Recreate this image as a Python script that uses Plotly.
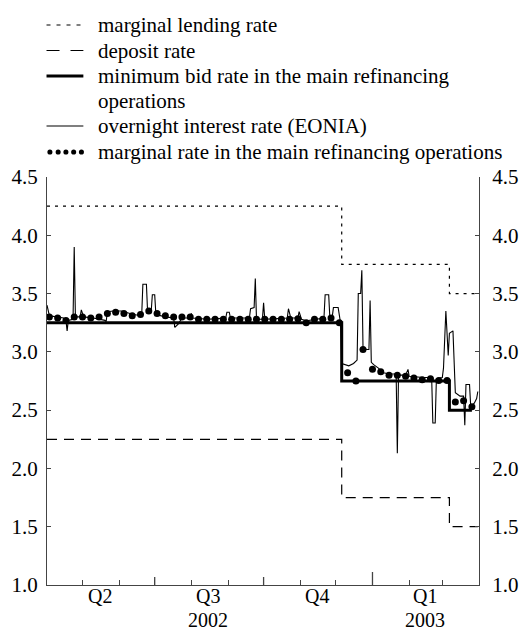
import plotly.graph_objects as go

# ---------------- data ----------------
eonia_dates = [
    "2002-04-01", "2002-04-03", "2002-04-09", "2002-04-15", "2002-04-17", "2002-04-18",
    "2002-04-19", "2002-04-23", "2002-04-24", "2002-04-25", "2002-04-29", "2002-04-30",
    "2002-05-02", "2002-05-10", "2002-05-20", "2002-05-21", "2002-05-22", "2002-05-27",
    "2002-06-03", "2002-06-07", "2002-06-13", "2002-06-20", "2002-06-21", "2002-06-24",
    "2002-06-25", "2002-06-28", "2002-06-29", "2002-07-01", "2002-07-02", "2002-07-10",
    "2002-07-17", "2002-07-18", "2002-07-21", "2002-07-24", "2002-07-31", "2002-08-01",
    "2002-08-02", "2002-08-15", "2002-08-30", "2002-08-31", "2002-09-02", "2002-09-03",
    "2002-09-19", "2002-09-20", "2002-09-23", "2002-09-24", "2002-09-25", "2002-09-30",
    "2002-10-01", "2002-10-02", "2002-10-21", "2002-10-22", "2002-10-24", "2002-10-30",
    "2002-10-31", "2002-11-02", "2002-11-05", "2002-11-06", "2002-11-08", "2002-11-21",
    "2002-11-22", "2002-11-25", "2002-11-26", "2002-11-28", "2002-11-29", "2002-12-03",
    "2002-12-05", "2002-12-06", "2002-12-12", "2002-12-16", "2002-12-19", "2002-12-20",
    "2002-12-22", "2002-12-23", "2002-12-24", "2002-12-27", "2002-12-29", "2002-12-30",
    "2002-12-31", "2003-01-02", "2003-01-06", "2003-01-10", "2003-01-16", "2003-01-21",
    "2003-01-22", "2003-01-23", "2003-01-29", "2003-01-31", "2003-02-01", "2003-02-13",
    "2003-02-20", "2003-02-21", "2003-02-23", "2003-02-24", "2003-03-01", "2003-03-02",
    "2003-03-04", "2003-03-06", "2003-03-07", "2003-03-10", "2003-03-12", "2003-03-16",
    "2003-03-19", "2003-03-20", "2003-03-21", "2003-03-24", "2003-03-25", "2003-03-28",
    "2003-03-30", "2003-03-31",
]
eonia_values = [
    3.40, 3.31, 3.30, 3.29, 3.27, 3.18,
    3.27, 3.28, 3.90, 3.30, 3.30, 3.36,
    3.30, 3.29, 3.27, 3.26, 3.345, 3.35,
    3.35, 3.34, 3.32, 3.31, 3.58, 3.58,
    3.34, 3.34, 3.49, 3.49, 3.32, 3.30,
    3.29, 3.21, 3.24, 3.29, 3.29, 3.33,
    3.29, 3.28, 3.29, 3.34, 3.34, 3.29,
    3.29, 3.37, 3.38, 3.63, 3.28, 3.28,
    3.42, 3.28, 3.29, 3.37, 3.29, 3.29,
    3.345, 3.28, 3.27, 3.23, 3.27, 3.29,
    3.49, 3.49, 3.29, 3.30, 3.38, 3.38,
    3.25, 2.90, 2.88, 2.90, 2.93, 3.50,
    3.50, 3.70, 3.04, 3.02, 3.02, 3.44,
    2.91, 2.89, 2.86, 2.82, 2.81, 2.81,
    2.13, 2.80, 2.80, 2.85, 2.79, 2.78,
    2.78, 2.39, 2.39, 2.77, 2.78, 2.86,
    3.35, 2.97, 3.16, 3.18, 2.65, 2.62,
    2.62, 2.37, 2.72, 2.72, 2.53, 2.56,
    2.60, 2.66,
]

mro_dates = [
    "2002-04-03", "2002-04-10", "2002-04-17", "2002-04-24", "2002-05-01", "2002-05-08",
    "2002-05-15", "2002-05-22", "2002-05-29", "2002-06-05", "2002-06-12", "2002-06-19",
    "2002-06-26", "2002-07-03", "2002-07-10", "2002-07-17", "2002-07-24", "2002-07-31",
    "2002-08-07", "2002-08-14", "2002-08-21", "2002-08-28", "2002-09-04", "2002-09-11",
    "2002-09-18", "2002-09-25", "2002-10-02", "2002-10-09", "2002-10-16", "2002-10-23",
    "2002-10-30", "2002-11-06", "2002-11-13", "2002-11-20", "2002-11-27", "2002-12-04",
    "2002-12-11", "2002-12-18", "2002-12-24", "2003-01-01", "2003-01-08", "2003-01-15",
    "2003-01-22", "2003-01-29", "2003-02-05", "2003-02-12", "2003-02-19", "2003-02-26",
    "2003-03-05", "2003-03-12", "2003-03-19", "2003-03-26",
]
mro_marginal = [
    3.30, 3.29, 3.27, 3.30, 3.30, 3.29,
    3.30, 3.33, 3.34, 3.33, 3.31, 3.32,
    3.35, 3.33, 3.31, 3.30, 3.30, 3.30,
    3.28, 3.28, 3.28, 3.28, 3.28, 3.28,
    3.28, 3.28, 3.28, 3.28, 3.28, 3.28,
    3.285, 3.25, 3.28, 3.28, 3.29, 3.25,
    2.82, 2.75, 3.02, 2.85, 2.83, 2.80,
    2.80, 2.79, 2.775, 2.76, 2.77, 2.755,
    2.755, 2.57, 2.58, 2.53,
]

min_bid_dates = ["2002-04-01", "2002-12-06", "2003-03-07", "2003-03-26"]
min_bid_values = [3.25, 2.75, 2.50, 2.50]

lending_dates = ["2002-04-01", "2002-12-06", "2003-03-07", "2003-03-31"]
lending_values = [4.25, 3.75, 3.50, 3.50]

deposit_dates = ["2002-04-01", "2002-12-06", "2003-03-07", "2003-03-31"]
deposit_values = [2.25, 1.75, 1.50, 1.50]

month_tick_dates = [
    "2002-05-01", "2002-06-01", "2002-07-01", "2002-08-01", "2002-09-01", "2002-10-01",
    "2002-11-01", "2002-12-01", "2003-01-01", "2003-02-01", "2003-03-01",
]
quarter_tick_dates = ["2002-07-01", "2002-10-01"]
year_tick_dates = ["2003-01-01"]
quarter_label_dates = ["2002-05-16", "2002-08-15", "2002-11-15", "2003-02-14"]
quarter_labels = ["Q2", "Q3", "Q4", "Q1"]
year_label_dates = ["2002-08-15", "2003-02-14"]
year_labels = ["2002", "2003"]

legend_labels = [
    "marginal lending rate",
    "deposit rate",
    "minimum bid rate in the main refinancing",
    "operations",
    "overnight interest rate (EONIA)",
    "marginal rate in the main refinancing operations",
]

# ---------------- figure ----------------
W, H = 530, 632
L, R, T, B = 44.5, 40, 177, 47
FONT = "Liberation Serif"
FS = 21
XFS = 20
AX = "#444444"

pw = W - L - R
ph = H - T - B


def px(x):
    return (x - L) / pw


def py(y):
    return (H - B - y) / ph


fig = go.Figure()
fig.add_trace(go.Scatter(x=lending_dates, y=lending_values, mode="lines",
                         line=dict(color="black", width=1.2, dash="3px,5px", shape="hv"),
                         showlegend=False, hoverinfo="skip"))
fig.add_trace(go.Scatter(x=deposit_dates, y=deposit_values, mode="lines",
                         line=dict(color="black", width=1.2, dash="10px,7px", shape="hv"),
                         showlegend=False, hoverinfo="skip"))
fig.add_trace(go.Scatter(x=eonia_dates, y=eonia_values, mode="lines",
                         line=dict(color="black", width=1.1),
                         showlegend=False, hoverinfo="skip"))
fig.add_trace(go.Scatter(x=min_bid_dates, y=min_bid_values, mode="lines",
                         line=dict(color="black", width=3, shape="hv"),
                         showlegend=False, hoverinfo="skip"))
fig.add_trace(go.Scatter(x=mro_dates, y=mro_marginal, mode="markers",
                         marker=dict(color="black", size=7),
                         showlegend=False, hoverinfo="skip"))
# carrier for the right-hand axis
fig.add_trace(go.Scatter(x=[None], y=[None], xaxis="x", yaxis="y2",
                         showlegend=False, hoverinfo="skip"))

xr = ["2002-04-01", "2003-04-01"]
ytick = dict(range=[1, 4.5], dtick=0.5, tick0=1, tickformat=".1f",
             showgrid=False, zeroline=False, showline=True, linecolor=AX, linewidth=1,
             ticks="inside", ticklen=4, tickcolor=AX,
             tickfont=dict(family=FONT, size=FS, color="black"))
fig.update_layout(
    width=W, height=H,
    margin=dict(l=L, r=R, t=T, b=B, pad=0),
    paper_bgcolor="white", plot_bgcolor="white",
    font=dict(family=FONT, size=FS, color="black"),
    showlegend=False,
    xaxis=dict(type="date", range=xr, showgrid=False, zeroline=False,
               showline=True, linecolor=AX, linewidth=1,
               tickmode="array", tickvals=month_tick_dates,
               ticktext=[""] * len(month_tick_dates),
               ticks="inside", ticklen=5, tickcolor=AX, tickwidth=1.2,
               showticklabels=False),
    yaxis=dict(ytick, side="left", ticklabelstandoff=4),
    yaxis2=dict(ytick, side="right", overlaying="y", anchor="x", ticklabelstandoff=8),
)

shapes = []
# longer quarter / year ticks on the time axis
for d in quarter_tick_dates:
    shapes.append(dict(type="line", xref="x", yref="paper", x0=d, x1=d,
                       y0=0, y1=8 / ph, line=dict(color=AX, width=1.3)))
for d in year_tick_dates:
    shapes.append(dict(type="line", xref="x", yref="paper", x0=d, x1=d,
                       y0=0, y1=13 / ph, line=dict(color=AX, width=1.3)))

# custom legend
rows_y = [25, 50.5, 76, 101, 126, 152]
sym_x0, sym_x1, text_x = 44, 82, 95
shapes += [
    dict(type="line", xref="paper", yref="paper",
         x0=px(sym_x0), x1=px(sym_x1), y0=py(rows_y[0]), y1=py(rows_y[0]),
         line=dict(color="black", width=1.2, dash="4px,6px")),
    dict(type="line", xref="paper", yref="paper",
         x0=px(sym_x0), x1=px(sym_x1), y0=py(rows_y[1]), y1=py(rows_y[1]),
         line=dict(color="black", width=1.2, dash="13px,11px")),
    dict(type="line", xref="paper", yref="paper",
         x0=px(sym_x0), x1=px(sym_x1), y0=py(rows_y[2]), y1=py(rows_y[2]),
         line=dict(color="black", width=3)),
    dict(type="line", xref="paper", yref="paper",
         x0=px(sym_x0), x1=px(sym_x1), y0=py(rows_y[4]), y1=py(rows_y[4]),
         line=dict(color="black", width=1.1)),
]
for cx in [47.5, 56, 64, 72, 80]:
    r = 2.6
    shapes.append(dict(type="circle", xref="paper", yref="paper",
                       x0=px(cx - r), x1=px(cx + r), y0=py(rows_y[5] + r), y1=py(rows_y[5] - r),
                       fillcolor="black", line=dict(width=0)))
fig.update_layout(shapes=shapes)

for lab, yy in zip(legend_labels, rows_y):
    fig.add_annotation(x=px(text_x), y=py(yy), xref="paper", yref="paper",
                       text=lab, showarrow=False, xanchor="left", yanchor="middle",
                       font=dict(family=FONT, size=FS, color="black"))

# time-axis labels
for d, lab in zip(quarter_label_dates, quarter_labels):
    fig.add_annotation(x=d, y=py(596), xref="x", yref="paper", text=lab,
                       showarrow=False, xanchor="center", yanchor="middle", borderpad=0,
                       font=dict(family=FONT, size=XFS, color="black"))
for d, lab in zip(year_label_dates, year_labels):
    fig.add_annotation(x=d, y=py(620), xref="x", yref="paper", text=lab,
                       showarrow=False, xanchor="center", yanchor="middle", borderpad=0,
                       font=dict(family=FONT, size=XFS, color="black"))

fig.write_html("out.html", config={"displayModeBar": False},
               post_script="document.body.style.margin='0px';")
